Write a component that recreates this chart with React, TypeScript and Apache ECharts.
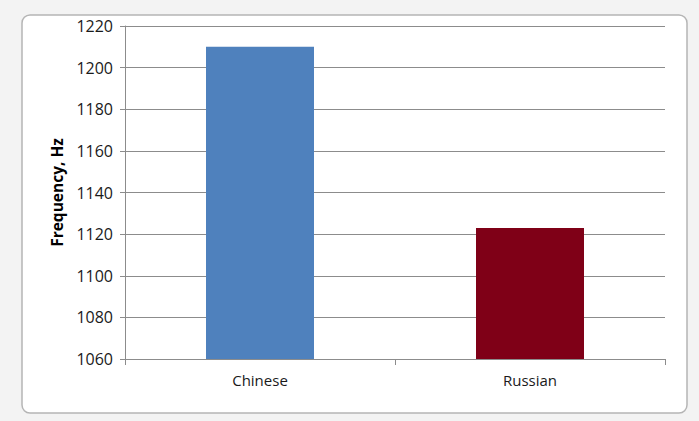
import React, { useEffect, useRef } from "react";
import * as echarts from "echarts";

const categories = ["Chinese", "Russian"];
const values = [1210, 1123];
const barColors = ["#4f81bd", "#7f0017"];
const yTitle = "Frequency, Hz";

export default function App() {
  const ref = useRef<HTMLDivElement>(null);
  useEffect(() => {
    if (!ref.current) return;
    const chart = echarts.init(ref.current, undefined, { renderer: "svg" });
    chart.setOption({
      animation: false,
      backgroundColor: "#f3f3f3",
      graphic: [
        {
          type: "rect",
          z: -10,
          shape: { x: 22, y: 15, width: 665, height: 398, r: 8 },
          style: { fill: "#ffffff", stroke: "#b5b5b5", lineWidth: 1.5 },
        },
      ],
      grid: { left: 125, right: 34, top: 26, bottom: 62 },
      xAxis: {
        type: "category",
        data: categories,
        axisLine: { lineStyle: { color: "#8c8c8c", width: 1 } },
        axisTick: { show: true, alignWithLabel: false, length: 6, lineStyle: { color: "#8c8c8c" } },
        axisLabel: { color: "#1a1a1a", fontSize: 15, fontFamily: "Open Sans", margin: 13 },
      },
      yAxis: {
        type: "value",
        min: 1060,
        max: 1220,
        interval: 20,
        name: yTitle,
        nameLocation: "middle",
        nameGap: 60,
        nameTextStyle: { fontSize: 15.5, fontWeight: "bold", color: "#000", fontFamily: "Open Sans" },
        axisLine: { show: true, lineStyle: { color: "#8c8c8c" } },
        axisTick: { show: true, length: 5, lineStyle: { color: "#8c8c8c" } },
        axisLabel: {
          color: "#1a1a1a",
          fontSize: 16,
          fontFamily: "Open Sans",
          margin: 12,
          formatter: (v: number) => String(v),
        },
        splitLine: { lineStyle: { color: "#8c8c8c", width: 1 } },
      },
      series: [
        {
          type: "bar",
          barWidth: "40%",
          data: values.map((v, i) => ({ value: v, itemStyle: { color: barColors[i] } })),
        },
      ],
    });
    return () => chart.dispose();
  }, []);
  return (
    <div
      ref={ref}
      style={{ position: "fixed", left: 0, top: 0, width: 699, height: 421 }}
    />
  );
}
